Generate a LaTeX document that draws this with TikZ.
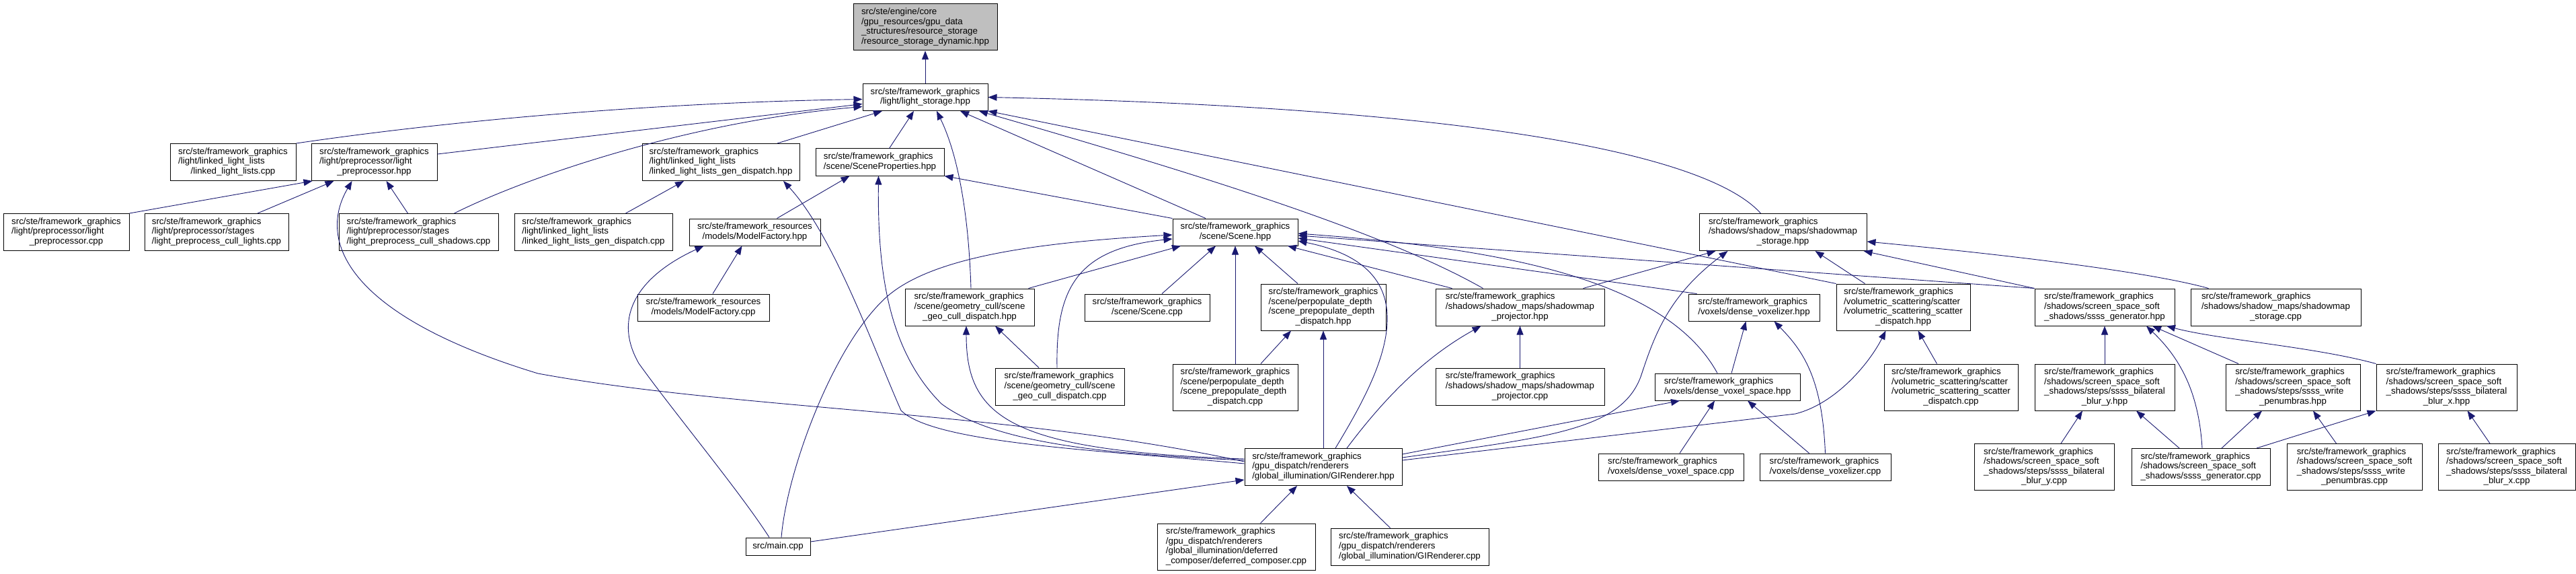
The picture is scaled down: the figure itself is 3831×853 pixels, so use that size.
\documentclass[tikz,border=0pt]{standalone}
\usepackage{fontspec}
\newfontfamily\dotfont{Liberation Sans}
\usetikzlibrary{arrows.meta}

\definecolor{edgeblue}{HTML}{191970}
\definecolor{focusgray}{HTML}{BFBFBF}

% texto de los nodos: lineas a la izquierda, la ultima centrada
\newcommand{\fg}{src/ste/framework\_graphics}
\newcommand{\flabel}[2]{\begin{tabular}{@{}l@{}}#1\\\multicolumn{1}{@{}c@{}}{#2}\end{tabular}}

\begin{document}
\begin{tikzpicture}[x=1pt, y=-1pt, >={Triangle[length=13pt,width=10pt]},
  fbox/.style={draw=black, line width=1pt, inner sep=0pt, fill=white,
    font=\dotfont\fontsize{13.3}{14.6}\selectfont},
  focus/.style={fbox, fill=focusgray},
  lines1/.style={minimum height=26pt},
  lines2/.style={minimum height=40pt},
  lines3/.style={minimum height=55pt},
  lines4/.style={minimum height=69pt},
  inc/.style={->, draw=edgeblue, line width=0.9pt}]

  \useasboundingbox (0,0) rectangle (3831,853);

  % --- Nodo raiz ---
  \node[focus, lines4, minimum width=214pt] (root) at (1376,40.5)
    {\flabel{src/ste/engine/core\\/gpu\_resources/gpu\_data\\\_structures/resource\_storage}{/resource\_storage\_dynamic.hpp}};

  % --- Fila 1 ---
  \node[fbox, lines2, minimum width=186pt] (ls) at (1376,144.5)
    {\flabel{\fg}{/light/light\_storage.hpp}};

  % --- Fila 2 ---
  \node[fbox, lines3, minimum width=187pt] (lllcpp) at (346.5,241)
    {\flabel{\fg\\/light/linked\_light\_lists}{/linked\_light\_lists.cpp}};
  \node[fbox, lines3, minimum width=187pt] (lphpp) at (556.5,241)
    {\flabel{\fg\\/light/preprocessor/light}{\_preprocessor.hpp}};
  \node[fbox, lines3, minimum width=234pt] (gdhpp) at (1072,241)
    {\flabel{\fg\\/light/linked\_light\_lists}{/linked\_light\_lists\_gen\_dispatch.hpp}};
  \node[fbox, lines2, minimum width=191pt] (sp) at (1308.5,241)
    {\flabel{\fg}{/scene/SceneProperties.hpp}};

  % --- Fila 3 ---
  \node[fbox, lines3, minimum width=187pt] (lpcpp) at (98.5,345)
    {\flabel{\fg\\/light/preprocessor/light}{\_preprocessor.cpp}};
  \node[fbox, lines3, minimum width=214pt] (clcpp) at (322,345)
    {\flabel{\fg\\/light/preprocessor/stages}{/light\_preprocess\_cull\_lights.cpp}};
  \node[fbox, lines3, minimum width=237pt] (cscpp) at (622.5,345)
    {\flabel{\fg\\/light/preprocessor/stages}{/light\_preprocess\_cull\_shadows.cpp}};
  \node[fbox, lines3, minimum width=235pt] (gdcpp) at (882.5,345)
    {\flabel{\fg\\/light/linked\_light\_lists}{/linked\_light\_lists\_gen\_dispatch.cpp}};
  \node[fbox, lines2, minimum width=195pt] (mfhpp) at (1122.5,345)
    {\flabel{src/ste/framework\_resources}{/models/ModelFactory.hpp}};
  \node[fbox, lines2, minimum width=186pt] (scene) at (1837,345)
    {\flabel{\fg}{/scene/Scene.hpp}};
  \node[fbox, lines3, minimum width=249pt] (smshpp) at (2651.5,345)
    {\flabel{\fg\\/shadows/shadow\_maps/shadowmap}{\_storage.hpp}};

  % --- Fila 4 ---
  \node[fbox, lines2, minimum width=196pt] (mfcpp) at (1046,457)
    {\flabel{src/ste/framework\_resources}{/models/ModelFactory.cpp}};
  \node[fbox, lines3, minimum width=192pt] (gchpp) at (1442,456.5)
    {\flabel{\fg\\/scene/geometry\_cull/scene}{\_geo\_cull\_dispatch.hpp}};
  \node[fbox, lines2, minimum width=186pt] (scenecpp) at (1706,457)
    {\flabel{\fg}{/scene/Scene.cpp}};
  \node[fbox, lines4, minimum width=186pt] (pdhpp) at (1968,456.5)
    {\flabel{\fg\\/scene/perpopulate\_depth\\/scene\_prepopulate\_depth}{\_dispatch.hpp}};
  \node[fbox, lines3, minimum width=251pt] (smphpp) at (2260.5,456.5)
    {\flabel{\fg\\/shadows/shadow\_maps/shadowmap}{\_projector.hpp}};
  \node[fbox, lines2, minimum width=195pt] (dvzhpp) at (2608.5,457)
    {\flabel{\fg}{/voxels/dense\_voxelizer.hpp}};
  \node[fbox, lines4, minimum width=199pt] (vshpp) at (2830.5,456.5)
    {\flabel{\fg\\/volumetric\_scattering/scatter\\/volumetric\_scattering\_scatter}{\_dispatch.hpp}};
  \node[fbox, lines3, minimum width=208pt] (ssghpp) at (3130,456.5)
    {\flabel{\fg\\/shadows/screen\_space\_soft}{\_shadows/ssss\_generator.hpp}};
  \node[fbox, lines3, minimum width=253pt] (smscpp) at (3384.5,456.5)
    {\flabel{\fg\\/shadows/shadow\_maps/shadowmap}{\_storage.cpp}};

  % --- Fila 5 ---
  \node[fbox, lines3, minimum width=192pt] (gccpp) at (1576,574.5)
    {\flabel{\fg\\/scene/geometry\_cull/scene}{\_geo\_cull\_dispatch.cpp}};
  \node[fbox, lines4, minimum width=186pt] (pdcpp) at (1837,575.5)
    {\flabel{\fg\\/scene/perpopulate\_depth\\/scene\_prepopulate\_depth}{\_dispatch.cpp}};
  \node[fbox, lines3, minimum width=251pt] (smpcpp) at (2260.5,574.5)
    {\flabel{\fg\\/shadows/shadow\_maps/shadowmap}{\_projector.cpp}};
  \node[fbox, lines2, minimum width=216pt] (dvshpp) at (2569,575)
    {\flabel{\fg}{/voxels/dense\_voxel\_space.hpp}};
  \node[fbox, lines4, minimum width=199pt] (vscpp) at (2901.5,575.5)
    {\flabel{\fg\\/volumetric\_scattering/scatter\\/volumetric\_scattering\_scatter}{\_dispatch.cpp}};
  \node[fbox, lines4, minimum width=208pt] (byhpp) at (3130,575.5)
    {\flabel{\fg\\/shadows/screen\_space\_soft\\\_shadows/steps/ssss\_bilateral}{\_blur\_y.hpp}};
  \node[fbox, lines4, minimum width=200pt] (wphpp) at (3410,575.5)
    {\flabel{\fg\\/shadows/screen\_space\_soft\\\_shadows/steps/ssss\_write}{\_penumbras.hpp}};
  \node[fbox, lines4, minimum width=209pt] (bxhpp) at (3638.5,575.5)
    {\flabel{\fg\\/shadows/screen\_space\_soft\\\_shadows/steps/ssss\_bilateral}{\_blur\_x.hpp}};

  % --- Fila 6 ---
  \node[fbox, lines3, minimum width=234pt] (gir) at (1968,694)
    {\flabel{\fg\\/gpu\_dispatch/renderers}{/global\_illumination/GIRenderer.hpp}};
  \node[fbox, lines2, minimum width=216pt] (dvscpp) at (2485,694)
    {\flabel{\fg}{/voxels/dense\_voxel\_space.cpp}};
  \node[fbox, lines2, minimum width=195pt] (dvzcpp) at (2714.5,694)
    {\flabel{\fg}{/voxels/dense\_voxelizer.cpp}};
  \node[fbox, lines4, minimum width=208pt] (bycpp) at (3040,694)
    {\flabel{\fg\\/shadows/screen\_space\_soft\\\_shadows/steps/ssss\_bilateral}{\_blur\_y.cpp}};
  \node[fbox, lines3, minimum width=206pt] (ssgcpp) at (3273,694)
    {\flabel{\fg\\/shadows/screen\_space\_soft}{\_shadows/ssss\_generator.cpp}};
  \node[fbox, lines4, minimum width=201pt] (wpcpp) at (3501.5,694)
    {\flabel{\fg\\/shadows/screen\_space\_soft\\\_shadows/steps/ssss\_write}{\_penumbras.cpp}};
  \node[fbox, lines4, minimum width=204pt] (bxcpp) at (3728,694)
    {\flabel{\fg\\/shadows/screen\_space\_soft\\\_shadows/steps/ssss\_bilateral}{\_blur\_x.cpp}};

  % --- Fila 7 ---
  \node[fbox, lines1, minimum width=96pt] (main) at (1157,812) {src/main.cpp};
  \node[fbox, lines4, minimum width=235pt] (dccpp) at (1838.5,812.5)
    {\flabel{\fg\\/gpu\_dispatch/renderers\\/global\_illumination/deferred}{\_composer/deferred\_composer.cpp}};
  \node[fbox, lines3, minimum width=235pt] (gircpp) at (2096.5,812.5)
    {\flabel{\fg\\/gpu\_dispatch/renderers}{/global\_illumination/GIRenderer.cpp}};

  % --- Hacia light_storage.hpp ---
  \draw[inc] (ls.north) -- (root.south);
  \draw[inc] (lllcpp.north east) .. controls (700,175) and (1000,152) .. ([yshift=-3pt]ls.west);
  \draw[inc] ([yshift=12pt]lphpp.east) -- ([yshift=-10pt]ls.west);
  \draw[inc] ([xshift=53pt]cscpp.north) .. controls (790,260) and (1030,180) .. ([yshift=-14pt]ls.west);
  \draw[inc] ([xshift=84pt]gdhpp.north) -- ([xshift=-64pt]ls.south);
  \draw[inc] ([xshift=14pt]sp.north) -- ([xshift=-17pt]ls.south);
  \draw[inc] ([xshift=2pt]gchpp.north) .. controls (1440,300) and (1420,220) .. ([xshift=17pt]ls.south);
  \draw[inc] ([xshift=-44pt]scene.north) -- ([xshift=52pt]ls.south);
  \draw[inc] ([xshift=-55pt]smphpp.north) .. controls (2050,340) and (1750,250) .. ([xshift=80pt]ls.south);
  \draw[inc] (vshpp.north west) -- (ls.south east);
  \draw[inc] ([xshift=-33pt]smshpp.north) .. controls (2540,230) and (2200,160) .. (ls.east);

  % --- Hacia light_preprocessor.hpp ---
  \draw[inc] (lpcpp.north east) -- ([xshift=2pt]lphpp.south west);
  \draw[inc] ([xshift=61pt]clcpp.north) -- ([xshift=-60pt]lphpp.south);
  \draw[inc] ([xshift=-16pt]cscpp.north) -- ([xshift=18pt]lphpp.south);
  \draw[inc] ([yshift=8pt]gir.west) .. controls (1500,610) and (1100,610) .. (800,555)
    .. controls (520,470) and (470,360) .. ([xshift=-33pt]lphpp.south);

  % --- Hacia linked_light_lists_gen_dispatch.hpp ---
  \draw[inc] ([xshift=48pt]gdcpp.north) -- ([xshift=-55pt]gdhpp.south);
  \draw[inc] ([yshift=5pt]gir.west) .. controls (1650,670) and (1390,660) .. (1340,610)
    .. controls (1300,520) and (1240,350) .. ([xshift=93pt]gdhpp.south);

  % --- Hacia SceneProperties.hpp ---
  \draw[inc] ([xshift=33pt]mfhpp.north) -- ([xshift=-45pt]sp.south);
  \draw[inc] ([yshift=10pt]gir.west) .. controls (1650,675) and (1480,660) .. (1400,600)
    .. controls (1320,520) and (1305,400) .. ([xshift=-2pt]sp.south);
  \draw[inc] (scene.north west) -- (sp.south east);

  % --- Hacia ModelFactory.hpp ---
  \draw[inc] ([xshift=-13pt]main.north) .. controls (1100,730) and (1000,610) .. (950,540)
    .. controls (910,470) and (950,410) .. ([xshift=-76pt]mfhpp.south);
  \draw[inc] ([xshift=14pt]mfcpp.north) -- ([xshift=-19pt]mfhpp.south);

  % --- Hacia Scene.hpp ---
  \draw[inc] ([xshift=5pt]main.north) .. controls (1170,700) and (1240,510) .. (1320,440)
    .. controls (1390,380) and (1550,360) .. ([yshift=-4pt]scene.west);
  \draw[inc] ([xshift=-4pt]gccpp.north) .. controls (1570,430) and (1600,370) .. ([yshift=-10pt]scene.west);
  \draw[inc] ([xshift=-9pt]gchpp.north east) -- ([xshift=-81pt]scene.south);
  \draw[inc] ([xshift=22pt]scenecpp.north) -- ([xshift=-29pt]scene.south);
  \draw[inc] (pdcpp.north) -- (scene.south);
  \draw[inc] ([xshift=-38pt]pdhpp.north) -- ([xshift=29pt]scene.south);
  \draw[inc] ([xshift=-101pt]smphpp.north) -- ([xshift=78pt]scene.south);
  \draw[inc] (ssghpp.north west) -- ([yshift=-5pt]scene.east);
  \draw[inc] ([xshift=-85pt]dvzhpp.north) -- ([yshift=-9pt]scene.east);
  \draw[inc] ([xshift=-15pt]dvshpp.north) .. controls (2480,420) and (2250,370) .. ([yshift=-2pt]scene.east);
  \draw[inc] ([xshift=18pt]gir.north) .. controls (2050,560) and (2140,400) .. ([yshift=-13pt]scene.east);

  % --- Hacia shadowmap_storage.hpp ---
  \draw[inc] ([xshift=94pt]smphpp.north) -- ([xshift=-100pt]smshpp.south);
  \draw[inc] ([yshift=14pt]gir.east) .. controls (2300,650) and (2410,640) .. (2440,560)
    .. controls (2460,500) and (2480,440) .. ([xshift=-82pt]smshpp.south);
  \draw[inc] ([xshift=43pt]vshpp.north west) -- ([xshift=48pt]smshpp.south);
  \draw[inc] (ssghpp.north west) -- ([xshift=-5pt]smshpp.south east);
  \draw[inc] ([xshift=-100pt]smscpp.north) .. controls (3200,405) and (3000,380) .. ([yshift=-14pt]smshpp.east);

  % --- Hacia scene_prepopulate_depth_dispatch.hpp ---
  \draw[inc] (gir.north) -- (pdhpp.south);
  \draw[inc] ([xshift=38pt]pdcpp.north) -- ([xshift=-48pt]pdhpp.south);

  % --- Hacia scene_geo_cull_dispatch.hpp ---
  \draw[inc] ([yshift=12pt]gir.west) .. controls (1500,670) and (1437,620) .. ([xshift=-5pt]gchpp.south);
  \draw[inc] ([xshift=-31pt]gccpp.north) -- ([xshift=38pt]gchpp.south);

  % --- Hacia shadowmap_projector.hpp ---
  \draw[inc] (smpcpp.north) -- (smphpp.south);
  \draw[inc] ([xshift=35pt]gir.north) .. controls (2060,590) and (2120,530) .. ([xshift=-58pt]smphpp.south);

  % --- Hacia dense_voxelizer.hpp ---
  \draw[inc] ([xshift=6pt]dvshpp.north) -- ([xshift=-12pt]dvzhpp.south);
  \draw[inc] (dvzcpp.north) .. controls (2710,560) and (2680,520) .. ([xshift=30pt]dvzhpp.south);

  % --- Hacia dense_voxel_space.hpp ---
  \draw[inc] ([yshift=19pt]gir.east) -- ([xshift=-71pt]dvshpp.south);
  \draw[inc] ([xshift=13pt]dvscpp.north) -- ([xshift=-19pt]dvshpp.south);
  \draw[inc] ([xshift=-24pt]dvzcpp.north) -- ([xshift=30pt]dvshpp.south);

  % --- Hacia volumetric_scattering_scatter_dispatch.hpp ---
  \draw[inc] ([xshift=-21pt]vscpp.north) -- ([xshift=22pt]vshpp.south);
  \draw[inc] ([yshift=10pt]gir.east) -- (2670,615) .. controls (2730,600) and (2780,540) .. ([xshift=-26pt]vshpp.south);

  % --- Hacia ssss_generator.hpp ---
  \draw[inc] (byhpp.north) -- (ssghpp.south);
  \draw[inc] ([xshift=2pt]ssgcpp.north) .. controls (3270,580) and (3240,530) .. ([xshift=62pt]ssghpp.south);
  \draw[inc] ([xshift=-81pt]wphpp.north) -- ([xshift=71pt]ssghpp.south);
  \draw[inc] (bxhpp.north west) .. controls (3440,515) and (3300,505) .. ([xshift=92pt]ssghpp.south);

  % --- Pasos ssss ---
  \draw[inc] ([xshift=25pt]bycpp.north) -- ([xshift=-33pt]byhpp.south);
  \draw[inc] ([xshift=-32pt]ssgcpp.north) -- ([xshift=47pt]byhpp.south);
  \draw[inc] ([xshift=31pt]ssgcpp.north) -- ([xshift=-46pt]wphpp.south);
  \draw[inc] ([xshift=-27pt]wpcpp.north) -- ([xshift=30pt]wphpp.south);
  \draw[inc] ([xshift=83pt]ssgcpp.north) -- (bxhpp.south west);
  \draw[inc] ([xshift=-25pt]bxcpp.north) -- ([xshift=31pt]bxhpp.south);

  % --- Hacia GIRenderer.hpp ---
  \draw[inc] ([yshift=7pt]main.east) -- ([yshift=-19pt]gir.west);
  \draw[inc] ([xshift=36pt]dccpp.north) -- ([xshift=-39pt]gir.south);
  \draw[inc] ([xshift=-29pt]gircpp.north) -- ([xshift=35pt]gir.south);

\end{tikzpicture}
\end{document}
